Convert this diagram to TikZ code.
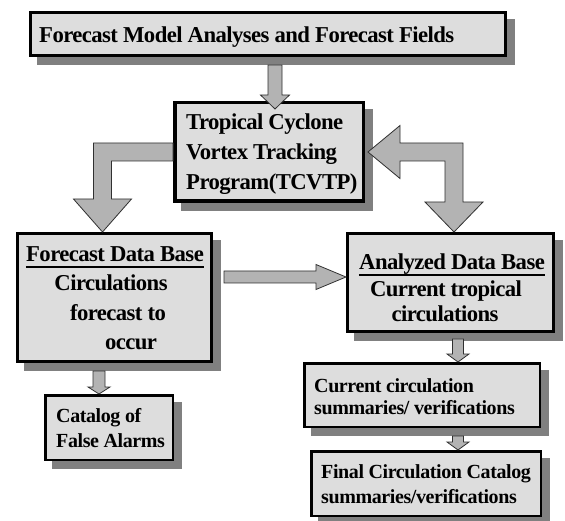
\documentclass[tikz,border=0pt]{standalone}
\usepackage{fontspec}
\setmainfont{Liberation Serif}
\usetikzlibrary{calc,backgrounds}
\definecolor{boxfill}{HTML}{DDDDDD}
\definecolor{shadegray}{HTML}{808080}
\definecolor{arrowfill}{HTML}{B3B3B3}
\definecolor{arrowline}{HTML}{303030}
% vertical block arrow: #1 tail point, #2 tip point, #3 half shaft, #4 half head, #5 head length
\newcommand\downblock[5]{%
  \filldraw[blockarrow] let \p1=#1, \p2=#2 in
    ({\x2-#3pt},\y1) -- ({\x2-#3pt},{\y2+#5pt}) -- ({\x2-#4pt},{\y2+#5pt}) -- (\p2)
    -- ({\x2+#4pt},{\y2+#5pt}) -- ({\x2+#3pt},{\y2+#5pt}) -- ({\x2+#3pt},\y1) -- cycle;}
\begin{document}
\begin{tikzpicture}[x=1pt,y=-1pt,
  panel/.style={draw=black, fill=boxfill, rectangle, inner sep=0pt},
  bigtxt/.style={font=\fontsize{22.7}{26}\selectfont\bfseries\addfontfeatures{LetterSpace=-2.5}, inner sep=0pt},
  smalltxt/.style={font=\fontsize{20}{23}\selectfont\bfseries\addfontfeatures{LetterSpace=-2}, inner sep=0pt},
  blockarrow/.style={fill=arrowfill, draw=arrowline, line width=0.8pt, line join=miter}]

\useasboundingbox (0,0) rectangle (565,521);

% boxes
\node[panel, line width=3pt,   minimum width=475pt,   minimum height=43pt]   (top)   at (268,34)    {};
\node[panel, line width=3.5pt, minimum width=188.5pt, minimum height=98.5pt] (tcvtp) at (269,152)   {};
\node[panel, line width=3pt,   minimum width=194pt,   minimum height=128pt]  (fdb)   at (114.5,297.5) {};
\node[panel, line width=3pt,   minimum width=206pt,   minimum height=98pt]   (adb)   at (450.5,282.5) {};
\node[panel, line width=2.5pt, minimum width=127.5pt, minimum height=64.5pt] (cat)   at (109,427.5) {};
\node[panel, line width=2.5pt, minimum width=235.5pt, minimum height=63.5pt] (cur)   at (422,395)   {};
\node[panel, line width=2.5pt, minimum width=229.5pt, minimum height=64.5pt] (fin)   at (426,483.5) {};

% drop shadows behind the boxes
\begin{scope}[on background layer]
  \fill[white] (0,0) rectangle (565,521);
  \foreach \b in {top,tcvtp,fdb,adb,cat,cur,fin}
    \fill[shadegray] ($(\b.north west)+(8,8)$) rectangle ($(\b.south east)+(8,8)$);
\end{scope}

% texts
\node[bigtxt, anchor=base west] (topt) at (39,43) {Forecast Model Analyses and Forecast Fields};

\node[bigtxt, anchor=base west] (tc1) at (186,130) {Tropical Cyclone};
\node[bigtxt, anchor=base west] (tc2) at (186,160) {Vortex Tracking};
\node[bigtxt, anchor=base west] (tc3) at (186,190) {Program(TCVTP)};

\node[bigtxt, anchor=base] (fdbt) at (115,262) {Forecast Data Base};
\node[bigtxt, anchor=base] (fdb1) at (111,291) {Circulations};
\node[bigtxt, anchor=base] (fdb2) at (118,320) {forecast to};
\node[bigtxt, anchor=base] (fdb3) at (131,349) {occur};
\draw[line width=2pt] ($(fdbt.base west)+(0,5)$) -- ($(fdbt.base east)+(0,5)$);

\node[bigtxt, anchor=base] (adbt) at (452,270) {Analyzed Data Base};
\node[bigtxt, anchor=base] (adb1) at (446,297) {Current tropical};
\node[bigtxt, anchor=base] (adb2) at (445,322) {circulations};
\draw[line width=2pt] ($(adbt.base west)+(0,5)$) -- ($(adbt.base east)+(0,5)$);

\node[smalltxt, anchor=base west] (cat1) at (56,422) {Catalog of};
\node[smalltxt, anchor=base west] (cat2) at (56,447) {False Alarms};

\node[smalltxt, anchor=base west] (cur1) at (314,392) {Current circulation};
\node[smalltxt, anchor=base west] (cur2) at (314,414) {summaries/ verifications};

\node[smalltxt, anchor=base west] (fin1) at (321,478) {Final Circulation Catalog};
\node[smalltxt, anchor=base west] (fin2) at (321,503) {summaries/verifications};

% block arrows
\downblock{($(top.south)+(7,8)$)}{($(tcvtp.north)+(6,8)$)}{7}{14.5}{14}
\downblock{($(fdb.south)+(-10,8)$)}{($(cat.north)+(-10,0)$)}{6}{11}{7}
\downblock{($(adb.south)+(7.5,6)$)}{($(cur.north)+(36,0)$)}{5.5}{11}{8}
\downblock{($(cur.south)+(32,8)$)}{($(fin.north)+(32,0)$)}{5.5}{11}{8}

% TCVTP -> forecast data base (elbow)
\filldraw[blockarrow] let \p1=(tcvtp.west), \p2=($(fdb.north)+(-12,0)$) in
  (\x1,{\y1+9pt}) -- ({\x2-9pt},{\y1+9pt}) -- ({\x2-9pt},{\y2+33pt}) -- ({\x2-29pt},{\y2+33pt})
  -- (\p2) -- ({\x2+29pt},{\y2+33pt}) -- ({\x2+9pt},{\y2+33pt}) -- ({\x2+9pt},{\y1-9pt})
  -- (\x1,{\y1-9pt}) -- cycle;

% TCVTP <-> analyzed data base (double-headed elbow)
\filldraw[blockarrow] let \p1=($(tcvtp.east)+(3,0)$), \p2=($(adb.north)+(3.5,0)$) in
  (\p1) -- ({\x1+32pt},{\y1+26.5pt}) -- ({\x1+32pt},{\y1+9pt}) -- ({\x2+9pt},{\y1+9pt})
  -- ({\x2+9pt},{\y2+30pt}) -- ({\x2+29pt},{\y2+30pt}) -- (\p2) -- ({\x2-29pt},{\y2+30pt})
  -- ({\x2-9pt},{\y2+30pt}) -- ({\x2-9pt},{\y1-9pt}) -- ({\x1+32pt},{\y1-9pt})
  -- ({\x1+32pt},{\y1-26.5pt}) -- cycle;

% forecast data base -> analyzed data base
\filldraw[blockarrow] let \p1=($(fdb.east)+(11,0)$), \p2=($(adb.west)+(0,-5.5)$) in
  (\x1,{\y2+6pt}) -- ({\x2-30pt},{\y2+6pt}) -- ({\x2-30pt},{\y2+12.5pt}) -- (\p2)
  -- ({\x2-30pt},{\y2-12.5pt}) -- ({\x2-30pt},{\y2-6pt}) -- (\x1,{\y2-6pt}) -- cycle;

\end{tikzpicture}
\end{document}
